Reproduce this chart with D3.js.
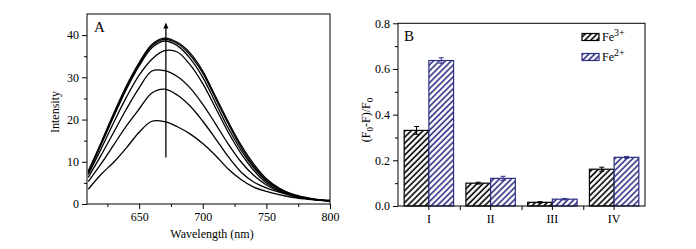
<!DOCTYPE html>
<html>
<head>
<meta charset="utf-8">
<script src="https://cdn.jsdelivr.net/npm/d3@7"></script>
<style>
  body { margin: 0; background: #fff; }
  svg, svg text { font-family: "Liberation Serif", "Times New Roman", Times, serif !important; }
</style>
</head>
<body>
<div id="chart"></div>
<script>
// ---- panel A data: emission spectra ----
const wavelengths = [610, 620, 630, 640, 650, 660, 670, 680, 690, 700, 710, 720, 730, 740, 750, 760, 770, 780, 790, 800];
const spec1 = [3.5, 7.0, 9.9, 13.3, 17.0, 19.6, 19.5, 18.3, 16.6, 14.3, 11.5, 8.3, 5.8, 4.0, 3.0, 2.2, 1.6, 1.2, 0.9, 0.7];
const spec2 = [5.3, 9.5, 14.0, 18.5, 22.5, 26.3, 27.2, 25.8, 23.2, 19.6, 15.5, 11.2, 7.6, 5.2, 3.8, 2.8, 2.0, 1.4, 1.0, 0.8];
const spec3 = [6.3, 11.5, 17.0, 22.5, 27.5, 31.5, 31.6, 30.2, 27.5, 23.6, 19.0, 14.2, 10.0, 6.8, 4.5, 3.0, 2.0, 1.4, 1.0, 0.8];
const spec4 = [7.0, 13.0, 19.3, 25.3, 30.5, 34.3, 36.3, 36.0, 33.0, 28.5, 22.8, 17.0, 12.0, 8.0, 5.0, 3.2, 2.1, 1.4, 1.0, 0.8];
const spec5 = [7.4, 14.0, 20.7, 27.2, 32.7, 37.0, 38.6, 37.5, 34.5, 30.0, 24.0, 18.0, 12.8, 8.6, 5.4, 3.4, 2.2, 1.4, 1.0, 0.8];
const spec6 = [7.6, 14.2, 21.0, 27.5, 33.0, 37.5, 39.0, 38.0, 35.3, 31.0, 25.0, 19.0, 13.5, 9.0, 5.7, 3.6, 2.3, 1.5, 1.0, 0.8];
const spec7 = [7.8, 14.5, 21.5, 28.0, 33.5, 37.8, 39.3, 38.3, 35.8, 31.5, 25.5, 19.5, 14.0, 9.5, 6.0, 3.8, 2.4, 1.6, 1.1, 0.9];
const spectra = [spec1, spec2, spec3, spec4, spec5, spec6, spec7];
const arrowWl = 671, arrowFrom = 11, arrowTo = 43;
const xTicksA = [650, 700, 750, 800];
const yTicksA = [0, 10, 20, 30, 40];

// ---- panel B data: quenching ratios ----
const samples = ["I", "II", "III", "IV"];
const fe3 = [0.331, 0.100, 0.016, 0.161];
const fe3Err = [0.017, 0.004, 0.003, 0.009];
const fe2 = [0.637, 0.121, 0.030, 0.213];
const fe2Err = [0.012, 0.009, 0.003, 0.004];
const yTicksB = [0, 0.2, 0.4, 0.6, 0.8];

const width = 696, height = 249;
const navy = "#2e2e84";
const serif = "'Liberation Serif', 'Times New Roman', Times, serif";

const svg = d3.select("#chart").append("svg")
  .attr("width", width)
  .attr("height", height)
  .attr("font-family", serif);

svg.append("rect").attr("width", width).attr("height", height).attr("fill", "#fff");

// hatch patterns
const defs = svg.append("defs");
function hatch(id, color) {
  const p = defs.append("pattern")
    .attr("id", id)
    .attr("patternUnits", "userSpaceOnUse")
    .attr("width", 4.2)
    .attr("height", 4.2)
    .attr("patternTransform", "rotate(45)");
  p.append("rect").attr("width", 4.2).attr("height", 4.2).attr("fill", "#fff");
  p.append("line")
    .attr("x1", 1).attr("y1", 0).attr("x2", 1).attr("y2", 4.2)
    .attr("stroke", color).attr("stroke-width", 1.6);
}
hatch("hatchBlack", "#000");
hatch("hatchNavy", navy);

// ================= panel A =================
const xA = d3.scaleLinear().domain([609, 800]).range([87, 330]);
const yA = d3.scaleLinear().domain([0, 45]).range([204, 14]);

const gA = svg.append("g");

gA.append("g")
  .attr("transform", "translate(0,204)")
  .call(d3.axisBottom(xA).tickValues(d3.range(625, 800, 50)).tickSize(3).tickFormat(""));
gA.append("g")
  .attr("transform", "translate(0,204)")
  .call(d3.axisBottom(xA).tickValues(xTicksA).tickSize(5).tickPadding(3));
gA.append("g")
  .attr("transform", "translate(87,0)")
  .call(d3.axisLeft(yA).tickValues(d3.range(5, 45, 10)).tickSize(3).tickFormat(""));
gA.append("g")
  .attr("transform", "translate(87,0)")
  .call(d3.axisLeft(yA).tickValues(yTicksA).tickSize(5).tickPadding(3));

gA.selectAll(".domain").remove();
gA.selectAll("g").attr("font-family", serif);
gA.selectAll(".tick line").attr("stroke", "#000");
gA.selectAll(".tick text").style("font-size", "12px");

gA.append("rect")
  .attr("x", 87).attr("y", 14).attr("width", 243).attr("height", 190)
  .attr("fill", "none").attr("stroke", "#000").attr("stroke-width", 1);

const line = d3.line()
  .x((d, i) => xA(wavelengths[i]))
  .y(d => yA(d))
  .curve(d3.curveCatmullRom);

gA.append("g")
  .selectAll("path")
  .data(spectra)
  .enter()
  .append("path")
  .attr("d", line)
  .attr("fill", "none")
  .attr("stroke", "#000")
  .attr("stroke-width", 1.3);

// arrow
gA.append("line")
  .attr("x1", xA(arrowWl)).attr("x2", xA(arrowWl))
  .attr("y1", yA(arrowFrom)).attr("y2", yA(arrowTo) + 4)
  .attr("stroke", "#000").attr("stroke-width", 1.3);
gA.append("path")
  .attr("d", `M${xA(arrowWl)},${yA(arrowTo)} l-2.5,6 l5,0 z`)
  .attr("fill", "#000");

gA.append("text").attr("x", 94).attr("y", 32).style("font-size", "15px").text("A");
gA.append("text")
  .attr("transform", "translate(59,112) rotate(-90)")
  .attr("text-anchor", "middle")
  .style("font-size", "12px")
  .text("Intensity");
gA.append("text")
  .attr("x", 212).attr("y", 238)
  .attr("text-anchor", "middle")
  .style("font-size", "12px")
  .text("Wavelength (nm)");

// ================= panel B =================
const xB = d3.scaleBand().domain(samples).range([398, 645]).padding(0);
const yB = d3.scaleLinear().domain([0, 0.8]).range([206, 23.3]);
const barW = xB.step() * 0.4;

const gB = svg.append("g");

// ticks at categories and between
const midTicks = samples.map(s => xB(s) + xB.step());
gB.append("g")
  .attr("transform", "translate(0,206)")
  .call(d3.axisBottom(d3.scaleLinear().domain([398, 645]).range([398, 645]))
    .tickValues(midTicks.slice(0, 3)).tickSize(4).tickFormat(""));
gB.append("g")
  .attr("transform", "translate(0,206)")
  .call(d3.axisBottom(xB).tickSize(4).tickPadding(4));
gB.append("g")
  .attr("transform", "translate(398,0)")
  .call(d3.axisLeft(yB).tickValues([0.1, 0.3, 0.5, 0.7]).tickSize(3).tickFormat(""));
gB.append("g")
  .attr("transform", "translate(398,0)")
  .call(d3.axisLeft(yB).tickValues(yTicksB).tickSize(5).tickPadding(3).tickFormat(d3.format(".1f")));

gB.selectAll(".domain").remove();
gB.selectAll("g").attr("font-family", serif);
gB.selectAll(".tick line").attr("stroke", "#000");
gB.selectAll(".tick text").style("font-size", "12px");

// bars
const groups = gB.append("g").selectAll("g")
  .data(samples)
  .enter()
  .append("g");

groups.append("rect")
  .attr("x", (d, i) => xB(d) + xB.bandwidth() / 2 - barW)
  .attr("y", (d, i) => yB(fe3[i]))
  .attr("width", barW)
  .attr("height", (d, i) => yB(0) - yB(fe3[i]))
  .attr("fill", "url(#hatchBlack)")
  .attr("stroke", "#000").attr("stroke-width", 1.2);

groups.append("rect")
  .attr("x", d => xB(d) + xB.bandwidth() / 2)
  .attr("y", (d, i) => yB(fe2[i]))
  .attr("width", barW)
  .attr("height", (d, i) => yB(0) - yB(fe2[i]))
  .attr("fill", "url(#hatchNavy)")
  .attr("stroke", navy).attr("stroke-width", 1.2);

function errBar(sel, vals, errs, offset, color) {
  sel.each(function(d, i) {
    const g = d3.select(this);
    const cx = xB(d) + xB.bandwidth() / 2 + offset;
    const top = yB(vals[i] + errs[i]), bot = yB(vals[i] - errs[i]);
    g.append("line").attr("x1", cx).attr("x2", cx).attr("y1", top).attr("y2", bot)
      .attr("stroke", color).attr("stroke-width", 1);
    [top, bot].forEach(y => {
      g.append("line").attr("x1", cx - 2.5).attr("x2", cx + 2.5).attr("y1", y).attr("y2", y)
        .attr("stroke", color).attr("stroke-width", 1);
    });
  });
}
errBar(groups, fe3, fe3Err, -barW / 2, "#000");
errBar(groups, fe2, fe2Err, barW / 2, navy);

gB.append("rect")
  .attr("x", 398).attr("y", 23.3).attr("width", 247).attr("height", 182.7)
  .attr("fill", "none").attr("stroke", "#000").attr("stroke-width", 1);

gB.append("text").attr("x", 404).attr("y", 41).style("font-size", "15px").text("B");

// y label with subscripts
const yl = gB.append("text")
  .attr("transform", "translate(370,120) rotate(-90)")
  .attr("text-anchor", "middle")
  .style("font-size", "12px");
yl.append("tspan").text("(F");
yl.append("tspan").attr("dy", 3).style("font-size", "9px").text("0");
yl.append("tspan").attr("dy", -3).text("-F)/F");
yl.append("tspan").attr("dy", 3).style("font-size", "9px").text("0");

// legend
const legend = [
  { label: "3+", fill: "url(#hatchBlack)", stroke: "#000", y: 33.5 },
  { label: "2+", fill: "url(#hatchNavy)", stroke: navy, y: 53.5 }
];
legend.forEach(l => {
  gB.append("rect")
    .attr("x", 582).attr("y", l.y).attr("width", 17).attr("height", 7)
    .attr("fill", l.fill).attr("stroke", l.stroke).attr("stroke-width", 1.2);
  const t = gB.append("text").attr("x", 602).attr("y", l.y + 7.5).style("font-size", "12px");
  t.append("tspan").text("Fe");
  t.append("tspan").attr("dy", -5).style("font-size", "10px").text(l.label);
});
</script>
</body>
</html>
